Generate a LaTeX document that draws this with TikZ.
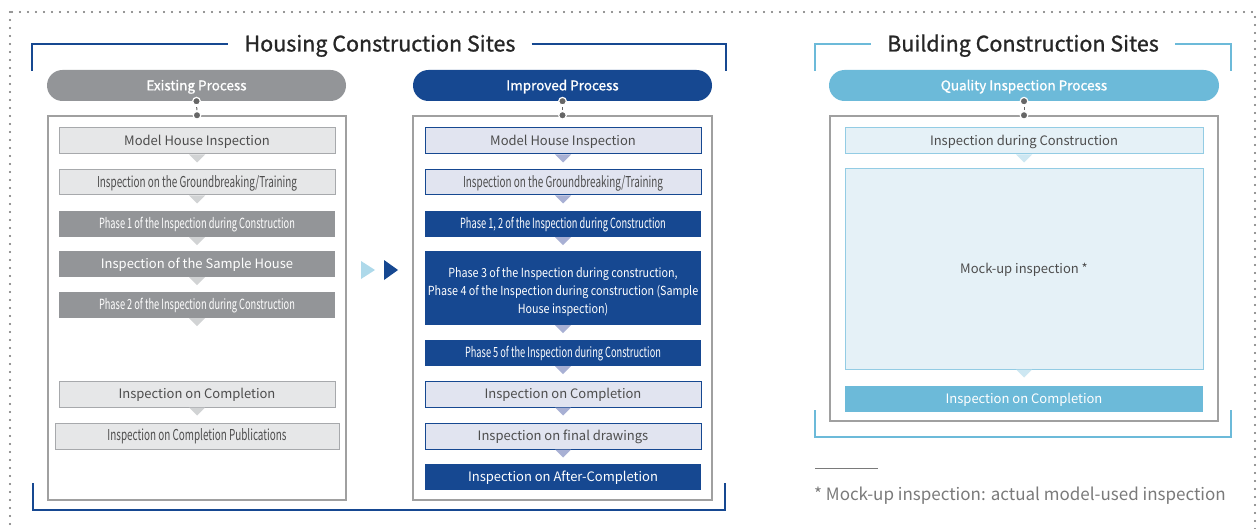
\documentclass[tikz,border=0pt]{standalone}
\usepackage{fontspec}
\setmainfont{Noto Sans CJK KR}
\newfontfamily\condfont[FakeStretch=0.66]{Noto Sans CJK KR}
\newfontfamily\midfont[FakeStretch=0.86]{Noto Sans CJK KR}
\newfontfamily\medfont[FakeBold=1]{Noto Sans CJK KR}
\usetikzlibrary{calc}
\definecolor{navy}{RGB}{22,72,145}
\definecolor{exgray}{RGB}{147,149,152}
\definecolor{exlight}{RGB}{230,231,232}
\definecolor{exline}{RGB}{167,169,172}
\definecolor{extri}{RGB}{209,211,212}
\definecolor{imlight}{RGB}{225,228,240}
\definecolor{imtri}{RGB}{168,176,212}
\definecolor{sky}{RGB}{108,186,217}
\definecolor{skylight}{RGB}{229,241,247}
\definecolor{skyline}{RGB}{147,204,228}
\definecolor{skytri}{RGB}{205,231,242}
\definecolor{panelline}{RGB}{160,160,160}
\definecolor{txt}{RGB}{77,77,77}
\definecolor{notetxt}{RGB}{122,122,122}

\tikzset{
  box/.style={minimum width=276pt, minimum height=26pt, inner sep=0pt, align=center},
  item/.style={box, font=\fontsize{13}{16}\selectfont, text height=11.6pt, text depth=2pt},
  cond/.style={font=\fontsize{14}{16}\selectfont\condfont},
  condbig/.style={font=\fontsize{15}{16}\selectfont\condfont},
  exitem/.style={item, fill=exlight, draw=exline, line width=1pt, text=txt},
  exdark/.style={item, fill=exgray, text=white},
  imitem/.style={item, fill=imlight, draw=navy, line width=1pt, text=txt},
  imdark/.style={item, fill=navy, text=white},
  pill/.style={minimum height=31pt, inner sep=0pt, rounded corners=15.5pt, text=white,
    font=\fontsize{13.5}{16}\medfont, text height=11.8pt, text depth=2pt},
  panel/.style={draw=panelline, line width=1.5pt, fill=white, inner sep=0pt},
  title/.style={font=\fontsize{21.5}{26}\medfont, text=black!85, inner sep=0pt,
    text height=18.5pt, text depth=3.5pt},
}

\newcommand{\droptri}[2]{%
  \fill[#2] ($(#1.south)+(-8,0)$) -- ($(#1.south)+(8,0)$) -- ($(#1.south)+(0,8)$) -- cycle;}
\newcommand{\linkdots}[2]{%
  \draw[dashed, black!60, line width=1pt] (#1.south) -- (#2.north);
  \fill[black!60, draw=white, line width=1.2pt] (#1.south) circle (3.8);
  \fill[black!60, draw=white, line width=1.2pt] (#2.north) circle (3.8);}

\begin{document}
\begin{tikzpicture}[x=1pt, y=-1pt]
\useasboundingbox (0,0) rectangle (1257,529);

% outer dotted frame
\draw[black!55, line width=2.2pt, line cap=round, dash pattern=on 0pt off 8pt]
  (10,12) rectangle (1255,560);

%---------------------------------------
% Housing construction sites
%---------------------------------------
\node[title] (hcs) at (380,44) {Housing Construction Sites};
\draw[navy, line width=2pt] (32,71) |- ([xshift=-16]hcs.west);
\draw[navy, line width=2pt] ([xshift=16]hcs.east) -| (726,71);
\draw[navy, line width=2pt] (33,483) |- (725,510) -- (725,483);

% Existing process
\node[panel, minimum width=298pt, minimum height=384pt] (expanel) at (197,308) {};
\node[pill, fill=exgray, minimum width=299pt] (expill) at (196.5,85.5) {Existing Process};
\linkdots{expill}{expanel}

\node[exitem] (ex1) at (197,141) {Model House Inspection};
\node[exitem, condbig, minimum height=25pt] (ex2) at (197,182.5) {Inspection on the Groundbreaking/Training};
\node[exdark, cond] (ex3) at (197,224) {Phase 1 of the Inspection during Construction};
\node[exdark] (ex4) at (197,264) {Inspection of the Sample House};
\node[exdark, cond] (ex5) at (197,305) {Phase 2 of the Inspection during Construction};
\node[exitem] (ex6) at (197,394) {Inspection on Completion};
\node[exitem, condbig, minimum width=284pt] (ex7) at (197,436) {Inspection on Completion Publications};
\foreach \n in {ex1,ex2,ex3,ex4,ex5,ex6} {\droptri{\n}{extri}}

% arrows between processes
\fill[sky!55] (361,261) -- (375,270) -- (361,279) -- cycle;
\fill[navy] (384,260) -- (398,270) -- (384,280) -- cycle;

% Improved process
\node[panel, minimum width=299pt, minimum height=384pt] (impanel) at (562.5,308) {};
\node[pill, fill=navy, minimum width=299pt] (impill) at (562.5,85.5) {Improved Process};
\linkdots{impill}{impanel}

\node[imitem] (im1) at (563,141) {Model House Inspection};
\node[imitem, condbig, minimum height=25pt] (im2) at (563,182.5) {Inspection on the Groundbreaking/Training};
\node[imdark, cond] (im3) at (563,224) {Phase 1, 2 of the Inspection during Construction};
\node[box, fill=navy, text=white, minimum height=74pt, font=\fontsize{12.5}{18}\midfont] (im4) at (563,288)
  {\rule{0pt}{17pt}Phase 3 of the Inspection during construction,\\Phase 4 of the Inspection during construction (Sample\\House inspection)};
\node[imdark, cond] (im5) at (563,353) {Phase 5 of the Inspection during Construction};
\node[imitem] (im6) at (563,394) {Inspection on Completion};
\node[imitem] (im7) at (563,436) {Inspection on final drawings};
\node[imdark] (im8) at (563,477) {Inspection on After-Completion};
\foreach \n in {im1,im2,im3,im4,im5,im6,im7} {\droptri{\n}{imtri}}

%---------------------------------------
% Building construction sites
%---------------------------------------
\node[title] (bcs) at (1023,44) {Building Construction Sites};
\draw[sky, line width=2pt] (815,71) |- ([xshift=-16]bcs.west);
\draw[sky, line width=2pt] ([xshift=16]bcs.east) -| (1231,71);
\draw[sky, line width=2pt] (815,410) |- (1231,437) -- (1231,410);

\node[panel, minimum width=388pt, minimum height=305pt] (qpanel) at (1024,268.5) {};
\node[pill, fill=sky, minimum width=390pt] (qpill) at (1024,85.5) {Quality Inspection Process};
\linkdots{qpill}{qpanel}

\node[item, minimum width=358pt, fill=skylight, draw=skyline, line width=1pt, text=txt] (q1) at (1024,141)
  {Inspection during Construction};
\node[item, minimum width=358pt, minimum height=200pt, fill=skylight, draw=skyline, line width=1pt, text=txt]
  (q2) at (1024,269) {Mock-up inspection *};
\node[item, minimum width=358pt, fill=sky, text=white] (q3) at (1024,399) {Inspection on Completion};
\foreach \n in {q1,q2} {\droptri{\n}{skytri}}

% footnote
\coordinate (rule) at (815,468);
\draw[notetxt, line width=1pt] (rule) -- ++(63,0);
\node[anchor=west, inner sep=0pt, text=notetxt, font=\fontsize{17}{20}\selectfont] (note) at (814,496)
  {* Mock-up inspection: actual model-used inspection};

\end{tikzpicture}
\end{document}
